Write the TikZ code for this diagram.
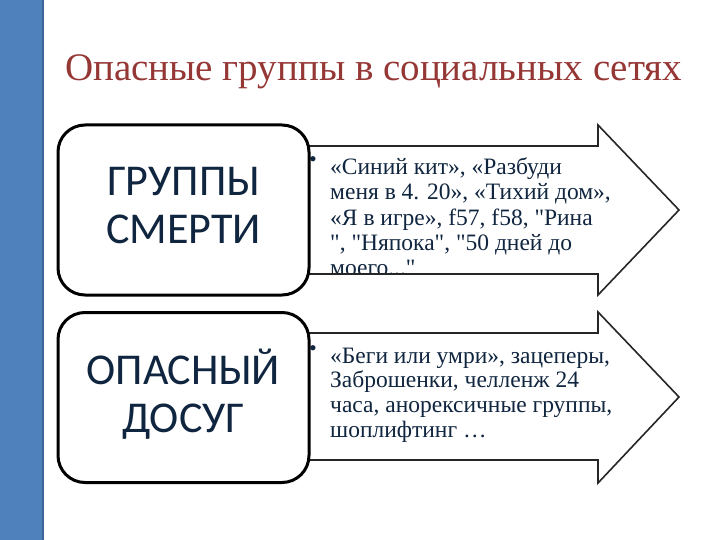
\documentclass[tikz,border=0pt]{standalone}
\usepackage{fontspec}
\setmainfont{Liberation Serif}[Ligatures=TeXOff]
\newfontfamily\boxfont{Carlito}
\definecolor{barblue}{HTML}{4F81BD}
\definecolor{baredge}{HTML}{3B6698}
\definecolor{titlered}{HTML}{953735}
\definecolor{navy}{HTML}{10253F}
\definecolor{arrowgray}{HTML}{262626}
\tikzset{
  catbox/.style={draw=black, line width=3pt, fill=white, rounded corners=27pt,
    minimum width=251pt, minimum height=170pt, inner sep=0pt, align=center,
    text=navy, font=\boxfont\fontsize{44}{48}\selectfont},
  bullettext/.style={anchor=base west, inner sep=0pt, text=navy},
  bulletdot/.style={anchor=center, inner sep=0pt, text=navy,
    font=\fontsize{22}{22}\selectfont},
  arrowline/.style={draw=arrowgray, line width=1.6pt, line join=miter}
}
\begin{document}
\begin{tikzpicture}[x=1pt,y=-1pt]
\useasboundingbox (0,0) rectangle (720,540);
\fill[white] (0,0) rectangle (720,540);
% side bar
\fill[barblue] (0,0) rectangle (43,540);
\draw[baredge, line width=1.2pt] (43,0) -- (43,540);
% title
\node[anchor=base west, inner sep=0pt, text=titlered, font=\fontsize{39}{44}\selectfont]
  (title) at (65,81) {Опасные группы в социальных сетях};
% arrow 1
\fill[white] (200,146) -- (598,146) -- (598,125) -- (679,210) -- (598,295) -- (598,274) -- (200,274) -- cycle;
\node[bulletdot] (d1) at (313,162) {•};
\begin{scope}
\clip (300,140) rectangle (680,274);
\node[bullettext, font=\fontsize{23.5}{25.3}\selectfont] (t1) at (330,174.5) {\begin{tabular}[t]{@{}l@{}}«Синий кит», «Разбуди\\
меня в 4. 20», «Тихий дом»,\\
«Я в игре», f57, f58, "Рина\\
", "Няпока", "50 дней до\\
моего..."\end{tabular}};
\end{scope}
\draw[arrowline] (200,146) -- (598,146) -- (598,125) -- (679,210) -- (598,295) -- (598,274) -- (200,274);
\node[catbox] (b1) at (183.5,210) {\raisebox{-3pt}{\begin{tabular}{@{}c@{}}ГРУППЫ\\СМЕРТИ\end{tabular}}};
% arrow 2
\fill[white] (200,333) -- (598,333) -- (598,312) -- (679,397) -- (598,483) -- (598,460) -- (200,460) -- cycle;
\node[bulletdot] (d2) at (313,351) {•};
\node[bullettext, font=\fontsize{23.5}{24.7}\selectfont] (t2) at (330,363) {\begin{tabular}[t]{@{}l@{}}«Беги или умри», зацеперы,\\
Заброшенки, челленж 24\\
часа, анорексичные группы,\\
шоплифтинг …\end{tabular}};
\draw[arrowline] (200,333) -- (598,333) -- (598,312) -- (679,397) -- (598,483) -- (598,460) -- (200,460);
\node[catbox] (b2) at (183.5,397.5) {\raisebox{-3pt}{\begin{tabular}{@{}c@{}}ОПАСНЫЙ\\ДОСУГ\end{tabular}}};
\end{tikzpicture}
\end{document}
